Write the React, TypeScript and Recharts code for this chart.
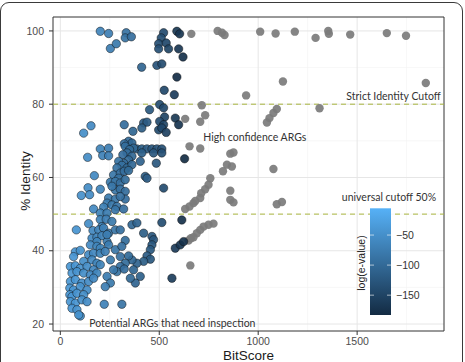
import React from 'react';
import {
  ScatterChart,
  Scatter,
  XAxis,
  YAxis,
  CartesianGrid,
  ReferenceLine,
  ReferenceArea,
  ReferenceDot,
} from 'recharts';

// [bitScore, % identity, log(e-value)]
const topHits: [number, number, number][] = [
  [202, 99.9, -65], [244, 99.3, -73], [253, 95.2, -74], [283, 96.5, -80], [333, 99.5, -89],
  [328, 98.1, -88], [359, 98.4, -94], [411, 90.1, -106], [522, 99.5, -140], [510, 98.1, -138],
  [589, 99.9, -165], [603, 99.2, -170], [497, 96.5, -135], [535, 96.7, -145], [547, 95.1, -150],
  [497, 95.1, -135], [598, 95.1, -168], [620, 92.9, -175], [488, 90.6, -130], [513, 91.0, -140],
  [589, 87.4, -180], [525, 83.8, -145], [576, 82.6, -160],
];

const strictZoneHits: [number, number, number][] = [
  [502, 79.9, -138], [522, 79.0, -145], [451, 78.5, -124], [527, 76.5, -150], [581, 76.2, -165],
  [598, 74.4, -170], [502, 75.3, -140], [522, 74.4, -148], [497, 73.0, -142], [513, 73.5, -145],
  [535, 72.3, -152], [421, 74.9, -118], [438, 75.1, -121], [412, 73.5, -116], [367, 72.6, -104],
  [323, 74.4, -95], [628, 65.1, -182],
];

const lightHits: [number, number, number][] = [
  [155, 74.1, -58], [118, 72.1, -52], [138, 65.5, -55], [172, 60.5, -60], [202, 56.8, -65],
  [140, 57.2, -55], [106, 55.1, -49], [148, 55.3, -56], [168, 51.4, -59], [143, 47.4, -55],
  [165, 45.5, -60], [160, 43.4, -59], [81, 45.7, -44], [76, 39.7, -43], [101, 40.1, -47],
  [222, 25.4, -69], [311, 25.4, -86], [101, 22.2, -47], [67, 38.4, -43], [51, 35.7, -40],
  [202, 67.8, -67], [244, 68.0, -74], [214, 66.0, -69], [244, 65.9, -74],
];

const midHits: [number, number, number][] = [
  [387, 67.8, -110], [412, 67.8, -114], [438, 67.8, -119], [463, 67.8, -125], [488, 67.8, -128],
  [513, 67.8, -135], [412, 66.7, -114], [471, 66.7, -125], [513, 66.7, -135], [404, 64.4, -110],
  [485, 63.9, -125], [429, 60.3, -116], [438, 59.8, -118], [522, 57.1, -140], [513, 47.7, -138],
  [614, 48.4, -175], [581, 40.7, -160], [606, 41.6, -170], [623, 42.5, -175], [564, 32.5, -158],
];

const bandHits: [number, number, number][] = [
  [345, 69.9, -99], [362, 69.4, -103], [323, 69.2, -95], [328, 68.5, -97], [370, 68.0, -104],
  [350, 67.6, -100], [337, 66.7, -98], [362, 65.8, -103], [316, 66.2, -94], [345, 64.8, -100],
  [320, 63.9, -94], [295, 64.4, -89], [311, 63.3, -92], [337, 62.6, -98], [286, 62.6, -88],
  [362, 63.5, -103], [269, 60.7, -84], [303, 61.2, -91], [323, 61.7, -95], [345, 61.9, -100],
  [295, 59.8, -89], [253, 58.7, -80], [278, 58.9, -85], [303, 58.5, -91], [328, 59.4, -97],
  [278, 56.6, -85], [303, 56.8, -91], [328, 56.2, -96], [261, 57.6, -82], [244, 54.4, -77],
  [278, 54.1, -85], [328, 54.1, -95], [303, 54.8, -91], [236, 53.0, -76], [261, 52.5, -80],
  [286, 52.1, -86], [219, 51.9, -71], [202, 50.3, -67], [236, 50.3, -76], [278, 51.2, -85],
  [320, 51.4, -94], [202, 48.5, -67], [232, 48.6, -74], [261, 48.0, -80], [210, 46.6, -69],
  [194, 45.7, -65], [219, 46.2, -70], [244, 44.8, -76], [278, 45.7, -85], [185, 43.7, -64],
  [210, 44.1, -69], [185, 42.5, -64], [236, 42.5, -75], [152, 41.6, -58], [185, 41.2, -64],
  [202, 40.7, -67], [244, 41.6, -76], [143, 38.9, -56], [168, 39.3, -61], [202, 39.3, -67],
  [227, 39.8, -73], [118, 37.1, -52], [160, 37.5, -59], [185, 36.6, -64], [76, 35.9, -44],
  [101, 35.2, -48], [135, 35.7, -55], [168, 34.8, -61], [202, 36.2, -67], [59, 33.9, -41],
  [84, 34.3, -46], [118, 33.9, -52], [152, 33.4, -58], [185, 33.9, -64], [51, 31.6, -40],
  [76, 32.1, -44], [109, 31.2, -50], [143, 31.6, -56], [168, 32.5, -61], [48, 29.8, -40],
  [67, 29.3, -43], [101, 30.2, -48], [135, 29.3, -55], [48, 28.0, -40], [59, 27.5, -42],
  [84, 28.4, -46], [118, 28.0, -52], [51, 26.1, -40], [76, 25.7, -44], [109, 26.6, -50],
  [135, 26.1, -54], [59, 24.3, -42], [84, 23.9, -46], [93, 22.5, -46],
];

const lobeHits: [number, number, number][] = [
  [303, 45.7, -91], [328, 42.8, -97], [362, 47.1, -103], [387, 47.6, -109], [421, 44.8, -116],
  [463, 43.9, -125], [471, 43.0, -127], [463, 41.6, -125], [455, 40.3, -124], [438, 38.6, -119],
  [455, 37.7, -124], [421, 37.1, -116], [387, 36.6, -109], [362, 37.5, -103], [345, 38.6, -100],
  [328, 36.6, -97], [303, 35.7, -91], [286, 34.3, -88], [323, 35.0, -95], [370, 34.8, -105],
  [404, 33.0, -112], [379, 31.2, -107], [354, 32.5, -101], [303, 38.4, -91], [278, 40.3, -85],
  [253, 37.5, -80], [269, 34.8, -83], [236, 33.0, -76], [253, 31.2, -80], [227, 30.2, -73],
  [311, 41.2, -93], [236, 44.4, -75],
];

// e-value reported as 0, log is -Inf -> NA grey
const saturatedHits: [number, number][] = [
  [662, 99.2], [795, 100], [817, 99.5], [830, 98.9], [1010, 99.8], [1088, 99.3], [1185, 99.8],
  [1290, 98.1], [1354, 100], [1357, 99.2], [1465, 99.0], [1650, 99.4], [1747, 98.7],
  [1125, 86.2], [1847, 85.8], [939, 82.4], [1310, 78.9], [1094, 78.7], [1077, 77.6], [1057, 76.2],
  [1044, 75.0], [715, 79.7], [732, 77.0], [707, 75.2], [631, 76.0], [653, 68.5], [707, 67.9],
  [859, 66.5], [875, 66.8], [842, 63.5], [867, 63.0], [822, 61.7], [1077, 62.3], [758, 59.8],
  [749, 58.0], [732, 56.8], [712, 55.7], [859, 56.4], [875, 53.2], [859, 53.9], [1094, 52.7],
  [1120, 53.3], [673, 53.0], [653, 52.1], [631, 51.4], [707, 54.4], [682, 53.6], [774, 47.4],
  [749, 47.1], [724, 46.6], [707, 45.7], [690, 44.8], [673, 43.7], [648, 42.8], [657, 36.0],
  [660, 43.4],
];

const xTicks = [0, 500, 1000, 1500];
const xMinor = [250, 750, 1250, 1750];
const yTicks = [20, 40, 60, 80, 100];
const yMinor = [30, 50, 70, 90];
const legendTicks = [-50, -100, -150];

const X_DOMAIN: [number, number] = [-37, 1939];
const Y_DOMAIN: [number, number] = [18.1, 103.8];
const E_MIN = -183;
const E_MAX = -5.5;
const LOW = [19, 43, 67];
const HIGH = [86, 177, 247];

const evalueColour = (v: number) => {
  const t = Math.max(0, Math.min(1, (v - E_MIN) / (E_MAX - E_MIN)));
  const c = LOW.map((l, i) => Math.round(l + (HIGH[i] - l) * t));
  return `rgb(${c[0]},${c[1]},${c[2]})`;
};

const colouredData = [...topHits, ...strictZoneHits, ...lightHits, ...midHits, ...bandHits, ...lobeHits]
  .map(([bs, id, e]) => ({ bs, id, e, fill: evalueColour(e) }));
const greyData = saturatedHits.map(([bs, id]) => ({ bs, id, fill: '#7b7b7b' }));

const blueDot = (p: any) => (
  <circle cx={p.cx} cy={p.cy} r={4.2} fill={p.payload.fill} fillOpacity={0.92} stroke="#0d0d0d" strokeOpacity={0.8} strokeWidth={0.6} />
);
const greyDot = (p: any) => (
  <circle cx={p.cx} cy={p.cy} r={4.2} fill={p.payload.fill} fillOpacity={0.92} />
);

const NOTE = { fontFamily: 'Lato, "Open Sans", sans-serif', fontSize: 10.5, fill: '#333' };
const AXIS_FONT = '"Liberation Sans", Arial, sans-serif';

// colour bar geometry (px)
const BAR = { x: 370, y: 208.3, w: 21, h: 106.7 };
const barY = (v: number) => BAR.y + ((E_MAX - v) / (E_MAX - E_MIN)) * BAR.h;

export default function App() {
  return (
    <div style={{ position: 'fixed', left: 0, top: 0, width: 465, height: 362, overflow: 'hidden', background: '#fff' }}>
      <div style={{ position: 'absolute', left: 0, top: 2, width: 461, height: 400, border: '1.4px solid #3a3a3a', borderRadius: 9 }} />
      <ScatterChart width={465} height={362} margin={{ top: 17, right: 21, bottom: 0, left: 0 }} style={{ position: 'absolute', left: 0, top: 0 }}>
        <CartesianGrid horizontalValues={yMinor} verticalValues={xMinor} stroke="#f1f1f1" strokeWidth={0.6} />
        <CartesianGrid horizontalValues={yTicks} verticalValues={xTicks} stroke="#e6e6e6" strokeWidth={1} />
        <XAxis
          type="number"
          dataKey="bs"
          domain={X_DOMAIN}
          ticks={xTicks}
          allowDataOverflow
          height={31}
          tickSize={4}
          tickMargin={3}
          stroke="#333"
          axisLine={false}
          tick={{ fill: '#4d4d4d', fontSize: 10.5, fontFamily: AXIS_FONT }}
          label={{ value: 'BitScore', position: 'insideBottom', offset: 2, fill: '#1a1a1a', fontSize: 13.5, fontFamily: AXIS_FONT }}
        />
        <YAxis
          type="number"
          dataKey="id"
          domain={Y_DOMAIN}
          ticks={yTicks}
          allowDataOverflow
          width={53}
          tickSize={4}
          tickMargin={5}
          stroke="#333"
          axisLine={false}
          tick={{ fill: '#4d4d4d', fontSize: 10.5, fontFamily: AXIS_FONT }}
        />
        <ReferenceLine y={80} stroke="#a9b53f" strokeDasharray="5 4" strokeWidth={1} />
        <ReferenceLine y={50} stroke="#a9b53f" strokeDasharray="5 4" strokeWidth={1} />
        <Scatter data={greyData} shape={greyDot} isAnimationActive={false} />
        <Scatter data={colouredData} shape={blueDot} isAnimationActive={false} />
        <ReferenceDot x={1684} y={82.3} r={0} label={{ value: 'Strict Identity Cutoff', position: 'center', ...NOTE }} />
        <ReferenceDot x={983} y={70.9} r={0} label={{ value: 'High confidence ARGs', position: 'center', ...NOTE }} />
        <ReferenceDot x={566} y={20.2} r={0} label={{ value: 'Potential ARGs that need inspection', position: 'center', ...NOTE }} />
        <ReferenceDot x={1661} y={54.7} r={0} label={{ value: 'universal cutoff 50%', position: 'center', ...NOTE }} />
        <ReferenceArea x1={X_DOMAIN[0]} x2={X_DOMAIN[1]} y1={Y_DOMAIN[0]} y2={Y_DOMAIN[1]} fill="none" stroke="#333" strokeWidth={1} ifOverflow="visible" />
      </ScatterChart>
      <svg width={465} height={362} style={{ position: 'absolute', left: 0, top: 0, pointerEvents: 'none' }}>
        <defs>
          <linearGradient id="ev" x1="0" y1="0" x2="0" y2="1">
            <stop offset="0%" stopColor={evalueColour(E_MAX)} />
            <stop offset="50%" stopColor={evalueColour((E_MAX + E_MIN) / 2)} />
            <stop offset="100%" stopColor={evalueColour(E_MIN)} />
          </linearGradient>
        </defs>
        <text x={25} y={181} transform="rotate(-90 25 181)" textAnchor="middle" dominantBaseline="central" fontSize={13.5} fontFamily={AXIS_FONT} fill="#1a1a1a">
          % Identity
        </text>
        <rect x={BAR.x} y={BAR.y} width={BAR.w} height={BAR.h} fill="url(#ev)" />
        {legendTicks.map((v) => (
          <g key={v}>
            <line x1={BAR.x} x2={BAR.x + 4} y1={barY(v)} y2={barY(v)} stroke="#fff" strokeOpacity={0.6} />
            <line x1={BAR.x + BAR.w - 4} x2={BAR.x + BAR.w} y1={barY(v)} y2={barY(v)} stroke="#fff" strokeOpacity={0.6} />
            <text x={BAR.x + BAR.w + 5} y={barY(v)} dominantBaseline="central" fontSize={10.5} fontFamily={AXIS_FONT} fill="#333">
              {'\u2212' + Math.abs(v)}
            </text>
          </g>
        ))}
        <text x={361} y={263} transform="rotate(-90 361 263)" textAnchor="middle" dominantBaseline="central" fontSize={10.5} fontFamily={AXIS_FONT} fill="#222">
          log(e-value)
        </text>
      </svg>
    </div>
  );
}
